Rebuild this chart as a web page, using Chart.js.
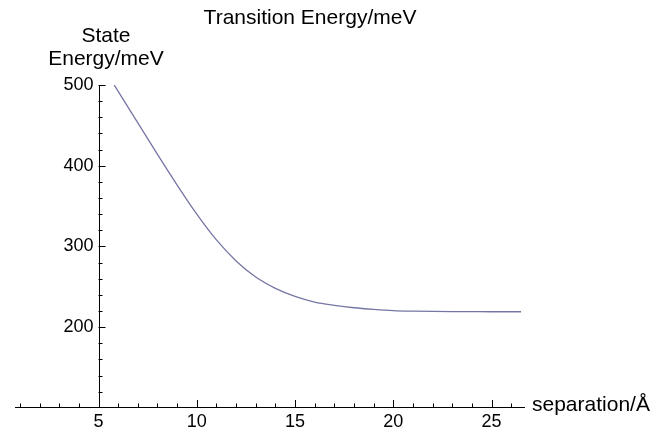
<!DOCTYPE html>
<html>
<head>
<meta charset="utf-8">
<script src="https://cdn.jsdelivr.net/npm/chart.js@4.4.1/dist/chart.umd.min.js"></script>
<style>
  html, body { margin: 0; padding: 0; background: #fff; }
  #wrap { width: 667px; height: 432px; position: relative; }
</style>
</head>
<body>
<div id="wrap"><canvas id="c" width="667" height="432"></canvas></div>
<script>
// Data
const separation = [5.8, 6, 7, 8, 9, 10, 11, 12, 13, 14, 15, 16, 17, 18, 19, 20, 21, 22, 23, 24, 25, 26, 26.5];
const stateEnergy = [500, 492, 453, 414, 376, 340, 308, 282, 262, 248, 238, 231, 227, 224, 222, 220.5, 219.8, 219.4, 219.2, 219.1, 219, 219, 219];
const xTickLabels = [5, 10, 15, 20, 25];
const yTickLabels = [200, 300, 400, 500];
const titleText = "Transition Energy/meV";
const yTitleLines = ["State", "Energy/meV"];
const xTitleText = "separation/Å";

const FONT = "'Liberation Sans', Arial, Helvetica, sans-serif";
const TICK_SIZE = 18;
const TITLE_SIZE = 21;

const axisPlugin = {
  id: 'mathAxes',
  afterDraw(chart) {
    const ctx = chart.ctx;
    const xs = chart.scales.x, ys = chart.scales.y;
    const area = chart.chartArea;
    const yAxisX = xs.getPixelForValue(5);
    const xAxisY = area.bottom;
    ctx.save();
    ctx.strokeStyle = '#000';
    ctx.lineWidth = 1;
    // x ticks (inward)
    for (let v = 1; v <= 26; v++) {
      const px = Math.round(xs.getPixelForValue(v)) + 0.5;
      const len = (v % 5 === 0) ? 7 : 3.5;
      ctx.beginPath(); ctx.moveTo(px, xAxisY); ctx.lineTo(px, xAxisY - len); ctx.stroke();
    }
    // y ticks (inward)
    for (let v = 120; v <= 500; v += 20) {
      const py = Math.round(ys.getPixelForValue(v)) + 0.5;
      const len = (v % 100 === 0) ? 7 : 4;
      ctx.beginPath(); ctx.moveTo(yAxisX, py); ctx.lineTo(yAxisX + len, py); ctx.stroke();
    }
    // axis lines
    ctx.beginPath();
    ctx.moveTo(area.left, Math.round(xAxisY) + 0.5); ctx.lineTo(area.right, Math.round(xAxisY) + 0.5);
    ctx.moveTo(Math.round(yAxisX) + 0.5, area.top); ctx.lineTo(Math.round(yAxisX) + 0.5, area.bottom);
    ctx.stroke();
    // tick labels
    ctx.fillStyle = '#000';
    ctx.font = TICK_SIZE + 'px ' + FONT;
    ctx.textAlign = 'center'; ctx.textBaseline = 'top';
    xTickLabels.forEach(v => ctx.fillText(String(v), xs.getPixelForValue(v), xAxisY + 6));
    ctx.textAlign = 'right'; ctx.textBaseline = 'middle';
    yTickLabels.forEach(v => ctx.fillText(String(v), yAxisX - 5, ys.getPixelForValue(v)));
    // axis titles
    ctx.font = TITLE_SIZE + 'px ' + FONT;
    ctx.textAlign = 'left'; ctx.textBaseline = 'middle';
    ctx.fillText(xTitleText, area.right + 7, xAxisY - 2);
    ctx.textAlign = 'center';
    ctx.fillText(yTitleLines[0], 106, 36);
    ctx.fillText(yTitleLines[1], 106, 59);
    ctx.fillText(titleText, 310, 18);
    ctx.restore();
  }
};

new Chart(document.getElementById('c'), {
  type: 'line',
  data: {
    datasets: [{
      data: separation.map((s, i) => ({ x: s, y: stateEnergy[i] })),
      borderColor: '#7676a4',
      borderWidth: 1.3,
      pointRadius: 0,
      fill: false,
      cubicInterpolationMode: 'monotone'
    }]
  },
  options: {
    responsive: false,
    animation: false,
    layout: { padding: { left: 15, right: 142, top: 85, bottom: 25 } },
    plugins: { legend: { display: false }, tooltip: { enabled: false }, title: { display: false } },
    scales: {
      x: { type: 'linear', display: false, min: 0.75, max: 26.7 },
      y: { type: 'linear', display: false, min: 101, max: 500 }
    }
  },
  plugins: [axisPlugin]
});
</script>
</body>
</html>
